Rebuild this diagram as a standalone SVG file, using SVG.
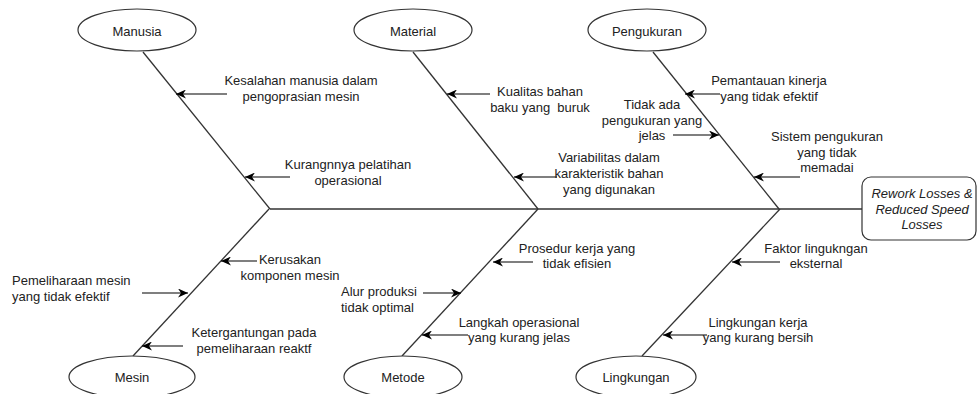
<svg xmlns="http://www.w3.org/2000/svg" width="977" height="394" viewBox="0 0 977 394">
<defs>
<style>
text{font-family:"Liberation Sans",Arial,sans-serif;font-size:13px;fill:#222;}
.c{text-anchor:middle;}
.s{text-anchor:start;}
.bone{stroke:#333;stroke-width:1.3;fill:none;}
.arr{stroke:#000;stroke-width:1.1;fill:none;marker-end:url(#ah);}
.node{fill:#fff;stroke:#333;stroke-width:1.2;}
.it{font-style:italic;}
</style>
<marker id="ah" markerUnits="userSpaceOnUse" markerWidth="11" markerHeight="9" refX="10" refY="4.5" orient="auto">
<path d="M0,0 L10,4.5 L0,9 L3,4.5 Z" fill="#000"/>
</marker>
</defs>
<rect width="977" height="394" fill="#fff"/>
<g id="connectors">
<line class="bone" x1="270" y1="209" x2="862" y2="209"/>
<line class="bone" x1="143" y1="52" x2="270" y2="209"/>
<line class="bone" x1="413" y1="52" x2="538" y2="209"/>
<line class="bone" x1="653" y1="52" x2="779" y2="209"/>
<line class="bone" x1="133" y1="356" x2="269" y2="209"/>
<line class="bone" x1="402" y1="356" x2="538" y2="209"/>
<line class="bone" x1="642" y1="356" x2="780" y2="209"/>
<line class="arr" x1="227" y1="94" x2="176" y2="94"/>
<line class="arr" x1="290" y1="177" x2="245" y2="177"/>
<line class="arr" x1="490" y1="94" x2="447" y2="94"/>
<line class="arr" x1="557" y1="177" x2="514" y2="177"/>
<line class="arr" x1="720" y1="94" x2="685" y2="94"/>
<line class="arr" x1="673" y1="135" x2="719" y2="135"/>
<line class="arr" x1="800" y1="177" x2="754" y2="177"/>
<line class="arr" x1="257" y1="261" x2="221" y2="261"/>
<line class="arr" x1="142" y1="293" x2="188" y2="293"/>
<line class="arr" x1="183" y1="346" x2="142" y2="346"/>
<line class="arr" x1="533" y1="262" x2="493" y2="262"/>
<line class="arr" x1="423" y1="293" x2="461" y2="293"/>
<line class="arr" x1="468" y1="335" x2="422" y2="335"/>
<line class="arr" x1="780" y1="262" x2="732" y2="262"/>
<line class="arr" x1="707" y1="335" x2="663" y2="335"/>
</g>
<g id="effect">
<rect class="node" x="862" y="177" width="114" height="63" rx="9"/>
<text class="c it" x="922" y="197.5">Rework Losses &amp;</text>
<text class="c it" x="922" y="213.5">Reduced Speed</text>
<text class="c it" x="922" y="228.5">Losses</text>
</g>
<g id="manusia">
<ellipse class="node" cx="137" cy="30" rx="59" ry="21"/>
<text class="c" x="137" y="35.5">Manusia</text>
</g>
<g id="material">
<ellipse class="node" cx="413" cy="30" rx="59" ry="21"/>
<text class="c" x="413" y="35.5">Material</text>
</g>
<g id="pengukuran">
<ellipse class="node" cx="647" cy="30" rx="59" ry="21"/>
<text class="c" x="647" y="35.5">Pengukuran</text>
</g>
<g id="mesin">
<ellipse class="node" cx="132" cy="377" rx="63" ry="21"/>
<text class="c" x="132" y="381.5">Mesin</text>
</g>
<g id="metode">
<ellipse class="node" cx="403" cy="377" rx="59" ry="21"/>
<text class="c" x="403" y="381.5">Metode</text>
</g>
<g id="lingkungan">
<ellipse class="node" cx="636" cy="377" rx="60" ry="21"/>
<text class="c" x="636" y="381.5">Lingkungan</text>
</g>
<g id="causes">
<text class="c" x="301" y="85">Kesalahan manusia dalam</text>
<text class="c" x="301" y="101">pengoprasian mesin</text>
<text class="c" x="348" y="168.5">Kurangnnya pelatihan</text>
<text class="c" x="348" y="184.5">operasional</text>
<text class="c" x="540" y="95.5">Kualitas bahan</text>
<text class="c" x="540" y="111.5" xml:space="preserve">baku yang  buruk</text>
<text class="c" x="609" y="161.5">Variabilitas dalam</text>
<text class="c" x="609" y="177.5">karakteristik bahan</text>
<text class="c" x="609" y="193.5">yang digunakan</text>
<text class="c" x="769" y="85">Pemantauan kinerja</text>
<text class="c" x="769" y="101">yang tidak efektif</text>
<text class="c" x="652" y="109">Tidak ada</text>
<text class="c" x="652" y="125">pengukuran yang</text>
<text class="c" x="652" y="140">jelas</text>
<text class="c" x="827" y="140.5">Sistem pengukuran</text>
<text class="c" x="827" y="156.5">yang tidak</text>
<text class="c" x="827" y="172">memadai</text>
<text class="c" x="290" y="263.5">Kerusakan</text>
<text class="c" x="290" y="279.5">komponen mesin</text>
<text class="s" x="12" y="284.5">Pemeliharaan mesin</text>
<text class="s" x="12" y="300.5">yang tidak efektif</text>
<text class="c" x="254" y="336.5">Ketergantungan pada</text>
<text class="c" x="254" y="352.5">pemeliharaan reaktf</text>
<text class="c" x="577" y="252.5">Prosedur kerja yang</text>
<text class="c" x="577" y="268">tidak efisien</text>
<text class="s" x="341" y="295.5">Alur produksi</text>
<text class="s" x="341" y="311.5">tidak optimal</text>
<text class="c" x="519" y="326.5">Langkah operasional</text>
<text class="c" x="519" y="341.5">yang kurang jelas</text>
<text class="c" x="816" y="252.5">Faktor lingukngan</text>
<text class="c" x="816" y="268">eksternal</text>
<text class="c" x="758" y="326.5">Lingkungan kerja</text>
<text class="c" x="758" y="341.5">yang kurang bersih</text>
</g>
</svg>
